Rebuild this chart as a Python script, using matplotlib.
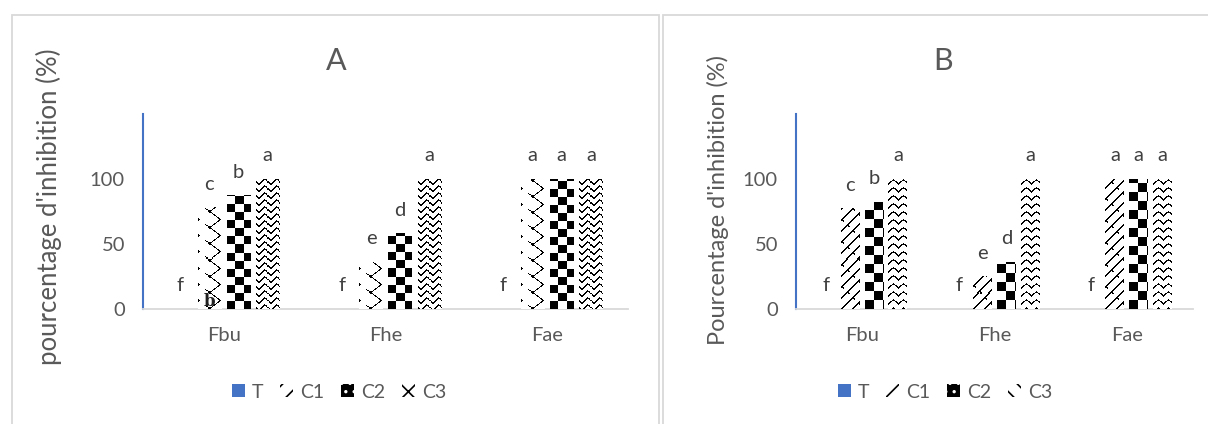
import numpy as np
import matplotlib
matplotlib.use("Agg")
import matplotlib.pyplot as plt
from matplotlib.patches import Patch, Rectangle

plt.rcParams["font.family"] = ["Lato", "DejaVu Sans"]
plt.rcParams["hatch.linewidth"] = 1.2

categories = ["Fbu", "Fhe", "Fae"]
series = ["T", "C1", "C2", "C3"]

# Panel A
a_T = [0, 0, 0]
a_C1 = [78, 36, 100]
a_C2 = [87, 58, 100]
a_C3 = [100, 100, 100]
# Panel B
b_T = [0, 0, 0]
b_C1 = [77, 25, 100]
b_C2 = [82, 36, 100]
b_C3 = [100, 100, 100]

# significance letters
let_T = ["f", "f", "f"]
let_C1 = ["c", "e", "a"]
let_C2 = ["b", "d", "a"]
let_C3 = ["a", "a", "a"]

yticks = [0, 50, 100]

TXT = "#595959"
LAB = "#404040"
BLUE = "#4472C4"
GRID = "#D9D9D9"

W, H = 1208, 424
fig = plt.figure(figsize=(W / 100, H / 100), dpi=100)


def fx(px):
    return px / W


def fy(py):
    return 1 - py / H


# panel frames
fig.add_artist(Rectangle((fx(12), fy(440)), fx(659 - 12), (440 - 15) / H,
                         transform=fig.transFigure, fill=False,
                         edgecolor=GRID, lw=1.3))
fig.add_artist(Rectangle((fx(663), fy(440)), fx(1220 - 663), (440 - 15) / H,
                         transform=fig.transFigure, fill=False,
                         edgecolor=GRID, lw=1.3))


def texture(kind, w, h):
    y, x = np.mgrid[0:h, 0:w].astype(float)
    y = h - 1 - y  # anchor pattern at the bar base
    if kind == "zigA":
        tri = np.abs((y % 16) - 8)
        m = ((x + 1.3 * tri) % 20) < 1.8
        m |= (((x - 1.3 * tri) % 20) < 1.5) & ((y % 16) < 4)
    elif kind == "zigB":
        m = ((x - y) % 11) < 1.7
        m |= (((x + y) % 22) < 1.6) & (((x - y) % 11) < 4.5)
    elif kind == "chkA":
        m = ((x // 8 + y // 8) % 2) == 0
    elif kind == "chkB":
        m = ((x // 9 + y // 9) % 2) == 0
    elif kind == "waveA":
        m = ((y + 2.3 * np.sin(2 * np.pi * x / 11.0)) % 7) < 1.8
    else:  # chevB
        m = ((y + 0.9 * np.abs((x % 10) - 5)) % 8) < 1.8
    img = np.ones((h, w, 3))
    img[m] = 0.0
    return img


def panel(rect, title, title_x, ylabel, ylab_size, ylab_xy, vals, kinds,
          odd=False):
    ax = fig.add_axes(rect)
    ax.set_xlim(-0.5, 2.5)
    ax.set_ylim(0, 150)
    x = np.arange(len(categories))
    step, width = 0.18, 0.143
    letters = [let_T, let_C1, let_C2, let_C3]
    for j, (name, v) in enumerate(zip(series, vals)):
        xs = x + (j - 1.5) * step
        if name == "T":
            ax.bar(xs, v, width, color=BLUE, zorder=2)
        else:
            bars = ax.bar(xs, v, width, color="white", zorder=2)
            for b in bars:
                x0, x1 = b.get_x(), b.get_x() + b.get_width()
                top = b.get_height()
                p0 = ax.transData.transform((x0, 0))
                p1 = ax.transData.transform((x1, top))
                w = max(1, int(round(p1[0] - p0[0])))
                h = max(1, int(round(p1[1] - p0[1])))
                ax.imshow(texture(kinds[j - 1], w, h), extent=(x0, x1, 0, top),
                          aspect="auto", interpolation="nearest", zorder=3)
        for xi, vi, t in zip(xs, v, letters[j]):
            ax.text(xi, vi + 18, t, ha="center", va="center", fontsize=14.5,
                    color=LAB, zorder=4)
    if odd:
        ax.text(x[0] - 0.5 * step, 6, "b", ha="center", va="center",
                fontsize=12, family="DejaVu Serif", fontweight="bold",
                color="#222222", zorder=5)
    ax.set_xlim(-0.5, 2.5)
    ax.set_ylim(0, 150)
    ax.set_xticks(x)
    ax.set_xticklabels(categories)
    ax.set_yticks(yticks)
    ax.tick_params(length=0, labelsize=14.5, labelcolor=TXT)
    ax.tick_params(axis="x", pad=13)
    ax.tick_params(axis="y", pad=13)
    for s in ("top", "right"):
        ax.spines[s].set_visible(False)
    ax.spines["left"].set_color(BLUE)
    ax.spines["left"].set_linewidth(1.5)
    ax.spines["bottom"].set_color(GRID)
    ax.spines["bottom"].set_linewidth(1.3)
    fig.text(fx(title_x), fy(61), title, fontsize=22, color=TXT,
             ha="center", va="center")
    fig.text(fx(ylab_xy[0]), fy(ylab_xy[1]), ylabel, fontsize=ylab_size,
             color=TXT, rotation=90, ha="center", va="center")
    return ax


def legend(cx, c1_hatch, c2_face, c3_hatch):
    handles = [
        Patch(facecolor=BLUE, edgecolor="none", label="T"),
        Patch(facecolor="white", edgecolor="black", hatch=c1_hatch, lw=0, label="C1"),
        Patch(facecolor=c2_face, edgecolor="white", hatch="..", lw=0, label="C2"),
        Patch(facecolor="white", edgecolor="black", hatch=c3_hatch, lw=0, label="C3"),
    ]
    fig.legend(handles=handles, loc="center", bbox_to_anchor=(fx(cx), fy(392)),
               ncol=4, frameon=False, fontsize=14, handlelength=0.65,
               handleheight=0.65, handletextpad=0.35, columnspacing=0.9,
               labelcolor=TXT)


bottom = fy(309)
height = (309 - 114) / H
panel([fx(143), bottom, fx(628 - 143), height], "A", 336,
      "pourcentage d'inhibition (%)", 18.5, (49, 207),
      [a_T, a_C1, a_C2, a_C3], ["zigA", "chkA", "waveA"], odd=True)
panel([fx(796), bottom, fx(1193 - 796), height], "B", 943,
      "Pourcentage d'inhibition (%)", 17, (718, 200),
      [b_T, b_C1, b_C2, b_C3], ["zigB", "chkB", "chevB"])

legend(339, "//", "black", "xx")
legend(945, "//", "black", "\\\\")

fig.savefig("out.png", dpi=100)
